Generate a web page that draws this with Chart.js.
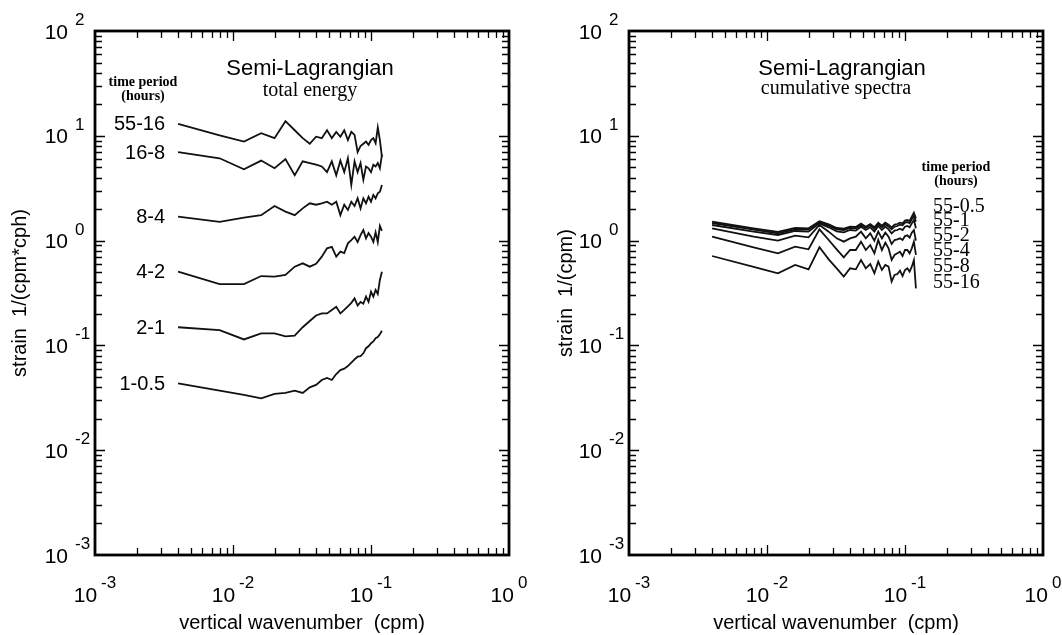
<!DOCTYPE html>
<html>
<head>
<meta charset="utf-8">
<script src="https://cdn.jsdelivr.net/npm/chart.js@4.4.1/dist/chart.umd.min.js"></script>
<style>
  html, body { margin: 0; padding: 0; background: #fff; }
  #wrap { position: relative; width: 1062px; height: 635px; background: #fff; }
  .panel { position: absolute; top: 0; width: 531px; height: 635px; }
</style>
</head>
<body>
<div id="wrap">
  <div class="panel" style="left:0"><canvas id="energyChart" width="531" height="635"></canvas></div>
  <div class="panel" style="left:531px"><canvas id="cumulativeChart" width="531" height="635"></canvas></div>
</div>
<script>
/* global Chart */

// vertical wavenumber (cpm)
const wavenumbers = [0.004, 0.008, 0.012, 0.016, 0.020, 0.024, 0.028, 0.032, 0.036, 0.040,
  0.044, 0.048, 0.052, 0.056, 0.060, 0.064, 0.068, 0.072, 0.076, 0.080,
  0.084, 0.088, 0.092, 0.096, 0.100, 0.104, 0.108, 0.112, 0.116, 0.120];

// left panel: total energy strain spectra by time period (hours)
const energyNames = ['55-16', '16-8', '8-4', '4-2', '2-1', '1-0.5'];
const energy55to16 = [13.0, 10.1, 8.8, 10.6, 9.5, 13.8, 11.3, 9.5, 8.4, 9.8, 9.5, 11.3, 9.5, 10.9, 9.8,
  11.3, 9.1, 10.9, 10.2, 7.0, 8.0, 8.4, 8.8, 8.2, 9.1, 9.5, 8.5, 12.0, 9.1, 6.3];
const energy16to8 = [6.97, 6.1, 4.8, 5.8, 4.9, 6.0, 4.2, 5.7, 5.5, 5.3, 5.1, 4.5, 5.7, 4.2, 5.8,
  4.5, 6.1, 3.4, 5.7, 4.5, 5.5, 3.8, 5.1, 4.9, 4.5, 5.3, 5.1, 5.5, 4.9, 6.6];
const energy8to4 = [1.69, 1.51, 1.66, 1.75, 2.14, 1.89, 1.75, 2.03, 2.27, 2.2, 2.27, 2.35, 2.2, 2.35, 1.75,
  2.2, 1.96, 2.35, 2.14, 2.53, 2.03, 2.53, 2.27, 2.62, 2.35, 2.72, 2.53, 2.82, 2.93, 3.4];
const energy4to2 = [0.505, 0.385, 0.385, 0.459, 0.453, 0.47, 0.564, 0.607, 0.564, 0.6, 0.703, 0.844, 0.87, 0.703, 0.784,
  0.76, 0.942, 1.01, 1.09, 0.97, 1.13, 1.26, 1.05, 1.18, 1.09, 0.97, 1.2, 0.97, 1.38, 1.24];
const energy2to1 = [0.149, 0.140, 0.114, 0.130, 0.130, 0.122, 0.124, 0.149, 0.171, 0.193, 0.202, 0.202, 0.218, 0.234, 0.202,
  0.218, 0.236, 0.255, 0.281, 0.24, 0.26, 0.25, 0.292, 0.26, 0.325, 0.292, 0.338, 0.31, 0.421, 0.505];
const energy1to05 = [0.0435, 0.037, 0.0337, 0.0313, 0.0344, 0.0352, 0.037, 0.0352, 0.0398, 0.042, 0.0468, 0.049, 0.0468, 0.0533, 0.0582,
  0.060, 0.0635, 0.0684, 0.0736, 0.078, 0.079, 0.084, 0.094, 0.098, 0.105, 0.109, 0.117, 0.12, 0.128, 0.138];

// right panel: cumulative spectra
const cumulativeNames = ['55-0.5', '55-1', '55-2', '55-4', '55-8', '55-16'];
const cum55to05 = [1.516, 1.31, 1.208, 1.319, 1.31, 1.527, 1.43, 1.319, 1.30, 1.358, 1.348, 1.451, 1.358, 1.44, 1.339,
  1.483, 1.388, 1.483, 1.419, 1.339, 1.419, 1.44, 1.483, 1.461, 1.55, 1.573, 1.538, 1.692, 1.848, 1.631];
const cum55to1 = [1.472, 1.271, 1.173, 1.281, 1.271, 1.494, 1.388, 1.281, 1.262, 1.319, 1.31, 1.409, 1.319, 1.398, 1.29,
  1.44, 1.339, 1.43, 1.358, 1.281, 1.358, 1.378, 1.419, 1.398, 1.483, 1.504, 1.461, 1.596, 1.717, 1.516];
const cum55to2 = [1.409, 1.217, 1.131, 1.235, 1.217, 1.461, 1.339, 1.226, 1.199, 1.262, 1.244, 1.358, 1.262, 1.339, 1.217,
  1.378, 1.262, 1.358, 1.281, 1.173, 1.244, 1.262, 1.30, 1.262, 1.358, 1.378, 1.339, 1.461, 1.573, 1.31];
const cum55to4 = [1.31, 1.09, 0.999, 1.114, 1.075, 1.409, 1.217, 1.051, 0.977, 1.051, 1.09, 1.217, 1.051, 1.173, 0.999,
  1.217, 1.051, 1.19, 1.09, 0.928, 1.013, 1.028, 1.051, 1.013, 1.106, 1.123, 1.067, 1.19, 1.262, 0.999];
const cum55to8 = [1.09, 0.863, 0.756, 0.875, 0.826, 1.281, 1.013, 0.826, 0.692, 0.813, 0.813, 0.977, 0.813, 0.908, 0.756,
  1.013, 0.813, 0.956, 0.844, 0.653, 0.729, 0.756, 0.784, 0.713, 0.813, 0.813, 0.756, 0.844, 0.977, 0.729];
const cum55to16 = [0.713, 0.56, 0.487, 0.585, 0.532, 0.863, 0.663, 0.544, 0.453, 0.544, 0.532, 0.653, 0.544, 0.598, 0.487,
  0.63, 0.524, 0.585, 0.564, 0.406, 0.47, 0.48, 0.517, 0.459, 0.524, 0.544, 0.505, 0.564, 0.653, 0.35];

const xDecades = [-3, -2, -1, 0];
const yDecades = [-3, -2, -1, 0, 1, 2];

const SANS = '"Liberation Sans", Arial, Helvetica, sans-serif';
const SERIF = '"Liberation Serif", "Times New Roman", serif';

function toPoints(values) {
  return values.map((v, i) => ({ x: wavenumbers[i], y: v }));
}

function drawPower(ctx, exp, x, baseY, align) {
  ctx.font = `21px ${SANS}`;
  const wb = ctx.measureText('10').width;
  ctx.font = `17px ${SANS}`;
  const we = ctx.measureText(String(exp)).width;
  ctx.textAlign = 'left';
  ctx.textBaseline = 'alphabetic';
  if (align === 'axisY') {
    ctx.font = `21px ${SANS}`;
    ctx.fillText('10', x - 27 - wb, baseY + 7.5);
    ctx.font = `17px ${SANS}`;
    ctx.fillText(String(exp), x - 20, baseY - 6);
  } else {
    const start = x - (wb + 4 + we) / 2;
    ctx.font = `21px ${SANS}`;
    ctx.fillText('10', start, baseY);
    ctx.font = `17px ${SANS}`;
    ctx.fillText(String(exp), start + wb + 4, baseY - 14);
  }
}

/* Boxed frame with inward ticks on all four sides, plus the annotations */
const framePlugin = {
  id: 'frameAndLabels',
  afterDraw(chart, args, opts) {
    const { ctx, chartArea: a, scales: { x, y } } = chart;
    ctx.save();
    ctx.strokeStyle = '#000';
    ctx.fillStyle = '#000';
    ctx.lineWidth = 1.3;
    ctx.beginPath();
    xDecades.forEach((d) => {
      for (let m = 1; m < 10; m += 1) {
        const v = m * 10 ** d;
        if (v > x.min * 1.0001 && v < x.max * 0.9999) {
          const px = Math.round(x.getPixelForValue(v)) + 0.5;
          const len = m === 1 ? 10 : 7;
          ctx.moveTo(px, a.top); ctx.lineTo(px, a.top + len);
          ctx.moveTo(px, a.bottom); ctx.lineTo(px, a.bottom - len);
        }
      }
    });
    yDecades.forEach((d) => {
      for (let m = 1; m < 10; m += 1) {
        const v = m * 10 ** d;
        if (v > y.min * 1.0001 && v < y.max * 0.9999) {
          const py = Math.round(y.getPixelForValue(v)) + 0.5;
          const len = m === 1 ? 10 : 7;
          ctx.moveTo(a.left, py); ctx.lineTo(a.left + len, py);
          ctx.moveTo(a.right, py); ctx.lineTo(a.right - len, py);
        }
      }
    });
    ctx.stroke();

    ctx.lineWidth = 2.8;
    ctx.strokeRect(a.left, a.top, a.right - a.left, a.bottom - a.top);

    xDecades.forEach((d) => drawPower(ctx, d, x.getPixelForValue(10 ** d), 602, 'axisX'));
    yDecades.forEach((d) => drawPower(ctx, d, a.left, y.getPixelForValue(10 ** d), 'axisY'));

    ctx.textAlign = 'center';
    ctx.textBaseline = 'alphabetic';
    ctx.font = `22px ${SANS}`;
    ctx.fillText('Semi-Lagrangian', opts.titleX, 75);
    ctx.font = `20px ${SERIF}`;
    ctx.fillText(opts.subtitle, opts.subX, opts.subY);
    ctx.font = `bold 14px ${SERIF}`;
    ctx.fillText('time period', opts.headX, opts.headY);
    ctx.fillText('(hours)', opts.headX, opts.headY + 14);

    if (opts.labelsAtStart) {
      ctx.textAlign = 'right';
      ctx.textBaseline = 'middle';
      ctx.font = `20px ${SANS}`;
      chart.data.datasets.forEach((ds, i) => {
        const p = chart.getDatasetMeta(i).data[0];
        ctx.fillText(ds.label, p.x - 13, p.y + 1);
      });
    } else {
      ctx.textAlign = 'left';
      ctx.font = `20px ${SERIF}`;
      chart.data.datasets.forEach((ds, i) => {
        ctx.fillText(ds.label, opts.listX, opts.listY[i]);
      });
    }
    ctx.restore();
  },
};

function makeChart(canvasId, names, series, yTitle, leftWidth, rightPad, titlePad, annot) {
  const datasets = series.map((values, i) => ({
    label: names[i],
    data: toPoints(values),
    borderColor: '#111',
    borderWidth: 1.8,
    pointRadius: 0,
    tension: 0,
    fill: false,
  }));
  const config = {
    type: 'line',
    data: { datasets },
    plugins: [framePlugin],
    options: {
      responsive: false,
      devicePixelRatio: 1,
      animation: false,
      layout: { padding: { top: 31, right: rightPad, left: 0, bottom: 0 } },
      plugins: {
        legend: { display: false },
        tooltip: { enabled: false },
        frameAndLabels: annot,
      },
      scales: {
        x: {
          type: 'logarithmic',
          min: 0.001,
          max: 1,
          grid: { display: false },
          border: { display: false },
          ticks: { display: false },
          title: {
            display: true,
            text: 'vertical wavenumber  (cpm)',
            color: '#000',
            font: { family: SANS, size: 20 },
            padding: { top: 0, bottom: 0 },
          },
          afterFit: (s) => { s.height = 80; },
        },
        y: {
          type: 'logarithmic',
          min: 0.001,
          max: 100,
          grid: { display: false },
          border: { display: false },
          ticks: { display: false },
          title: {
            display: true,
            text: yTitle,
            color: '#000',
            font: { family: SANS, size: 20 },
            padding: { top: titlePad, bottom: 0 },
          },
          afterFit: (s) => { s.width = leftWidth; },
        },
      },
    },
  };
  return new Chart(document.getElementById(canvasId), config);
}

function initialize() {
  makeChart('energyChart', energyNames,
    [energy55to16, energy16to8, energy8to4, energy4to2, energy2to1, energy1to05],
    'strain  1/(cpm*cph)', 95, 22, 8,
    {
      titleX: 310, subtitle: 'total energy', subX: 310, subY: 96,
      headX: 143, headY: 86, labelsAtStart: true,
    });
  makeChart('cumulativeChart', cumulativeNames,
    [cum55to05, cum55to1, cum55to2, cum55to4, cum55to8, cum55to16],
    'strain  1/(cpm)', 98, 19, 23,
    {
      titleX: 311, subtitle: 'cumulative spectra', subX: 305, subY: 94,
      headX: 425, headY: 171, labelsAtStart: false,
      listX: 402, listY: [212, 226, 241, 256, 272, 288],
    });
}

document.addEventListener('DOMContentLoaded', initialize);
</script>
</body>
</html>
